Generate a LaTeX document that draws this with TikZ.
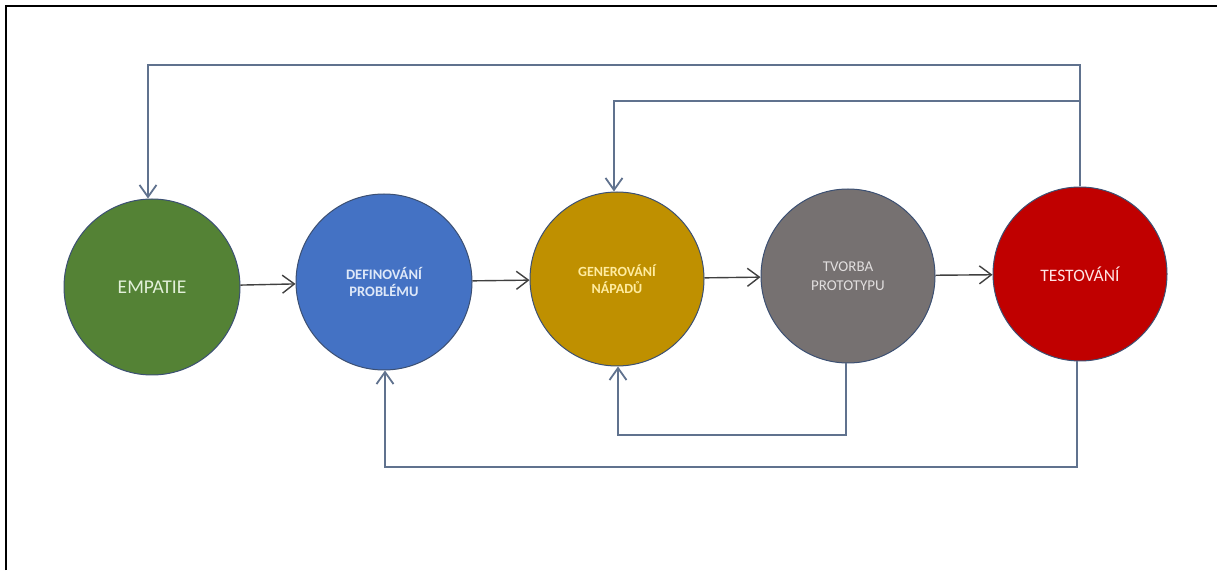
\documentclass[tikz,border=0pt]{standalone}
\usepackage{fontspec}
\setmainfont{Carlito}
\usetikzlibrary{arrows.meta}
\definecolor{cgreen}{RGB}{84,130,53}
\definecolor{cblue}{RGB}{68,114,196}
\definecolor{cgold}{RGB}{191,144,0}
\definecolor{cgray}{RGB}{118,113,113}
\definecolor{cred}{RGB}{192,0,0}
\definecolor{outl}{RGB}{60,80,115}
\definecolor{fline}{RGB}{96,114,142}
\definecolor{hline}{RGB}{64,64,64}
\definecolor{tgreen}{RGB}{226,240,217}
\definecolor{tblue}{RGB}{222,232,248}
\definecolor{tgold}{RGB}{255,236,160}
\definecolor{tgray}{RGB}{225,222,222}
\definecolor{tred}{RGB}{255,228,228}
\begin{document}
\begin{tikzpicture}[x=1pt,y=1pt,
  phase/.style={circle, draw=outl, line width=1pt, inner sep=0pt, align=center},
  fwd/.style={draw=hline, line width=1.4pt, -{Straight Barb[length=12pt,width=18pt]}},
  back/.style={draw=fline, line width=1.8pt},
  backarr/.style={back, -{Straight Barb[length=12pt,width=17pt]}}
]
\useasboundingbox (0,0) rectangle (1217,570);
\draw[black, line width=2.5pt] (6,0) -- (6,564) -- (1217,564);

\node[phase, fill=cgreen, minimum size=176pt, text=tgreen, font=\fontsize{19.5}{22}\selectfont] (EMP) at (152,283) {EMPATIE};
\node[phase, fill=cblue, minimum size=176pt, text=tblue, font=\fontsize{14.5}{17}\selectfont\bfseries] (DEF) at (384,288) {DEFINOVÁNÍ\\PROBLÉMU};
\node[phase, fill=cgold, minimum size=174pt, text=tgold, font=\fontsize{14}{17}\selectfont\bfseries] (GEN) at (617,291) {GENEROVÁNÍ\\NÁPADŮ};
\node[phase, fill=cgray, minimum size=174pt, text=tgray, font=\fontsize{15}{19}\selectfont] (TVO) at (848,294) {TVORBA\\PROTOTYPU};
\node[phase, fill=cred, minimum size=174pt, text=tred, font=\fontsize{17.5}{20}\selectfont] (TES) at (1080,296) {TESTOVÁNÍ};

\draw[fwd] (EMP) -- (DEF);
\draw[fwd] (DEF) -- (GEN);
\draw[fwd] (GEN) -- (TVO);
\draw[fwd] (TVO) -- (TES);

\coordinate (t1) at (1080,505);
\coordinate (t2) at (148,505);
\coordinate (t3) at (1080,469);
\coordinate (t4) at (614,469);
\draw[backarr] (TES.north) -- (t1) -- (t2) -- (t2 |- EMP.north);
\draw[backarr] (t3) -- (t4) -- (t4 |- GEN.north);

\coordinate (b1) at (846,135);
\coordinate (b2) at (618,135);
\coordinate (b3) at (1077,103);
\coordinate (b4) at (385,103);
\draw[backarr] (b1 |- TVO.south) -- (b1) -- (b2) -- (b2 |- GEN.south);
\draw[backarr] (b3 |- TES.south) -- (b3) -- (b4) -- (b4 |- DEF.south);
\end{tikzpicture}
\end{document}
